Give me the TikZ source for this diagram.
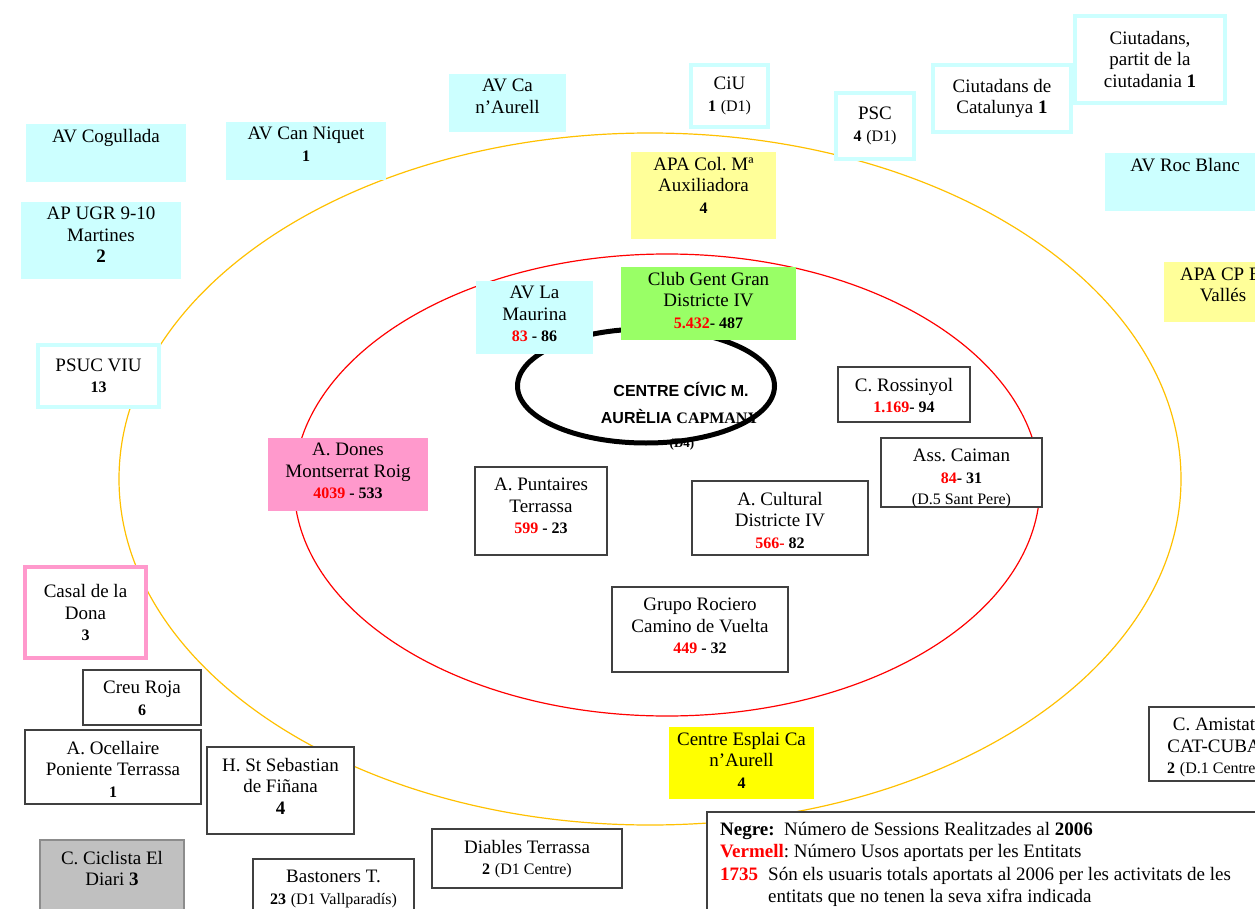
\documentclass[tikz,border=0pt]{standalone}
\usepackage{fontspec}
\setmainfont{Liberation Serif}
\setsansfont{Liberation Sans}
\usepackage{tikz}

\definecolor{cel}{RGB}{204,255,255}
\definecolor{groc}{RGB}{255,255,153}
\definecolor{grocfort}{RGB}{255,255,0}
\definecolor{rosa}{RGB}{255,153,204}
\definecolor{verd}{RGB}{153,255,102}
\definecolor{gris}{RGB}{192,192,192}
\definecolor{taronja}{RGB}{255,192,0}

\newcommand{\xifra}[1]{{\fontsize{16}{19}\selectfont\bfseries #1}}
\newcommand{\petit}[1]{{\fontsize{16}{19}\selectfont #1}}
\newcommand{\vermell}[1]{\textcolor{red}{#1}}

\begin{document}
\frenchspacing
\begin{tikzpicture}[x=1pt, y=-1pt, every node/.style={font=\fontsize{19}{21.5}\selectfont},
  caixa/.style 2 args={rectangle, anchor=north west, inner sep=0pt, outer sep=0pt, minimum width=#1, minimum height=#2, align=center},
  filled node/.style={label={[anchor=north, inner sep=5pt, align=center]north:#1}},
  black node/.style={draw=black!75, line width=1.2pt, fill=white, label={[anchor=north, inner sep=11pt, align=center]north:#1}},
  cyan frame/.style={draw=cel, line width=4pt, fill=white},
  pink frame/.style={draw=rosa, line width=4pt, fill=white},
  centre font/.style={font=\fontsize{16}{18}\selectfont\sffamily\bfseries, anchor=base}]
  \useasboundingbox (0,0) rectangle (1255,909);
  \clip (0,0) rectangle (1255,909);

  % cercles
  \draw[taronja, line width=1.2pt] (650,479) ellipse (531 and 346);
  \draw[red, line width=1.2pt] (667,485) ellipse (373 and 231);

  % centre civic
  \node[centre font] (centre) at (681,396) {CENTRE CÍVIC M.};
  \node[centre font] (aurelia) at (680,423) {AURÈLIA {\rmfamily CAPMANY}};
  \node[font=\fontsize{13}{15}\selectfont\bfseries, anchor=base] (d4) at (682,447) {(D4)};
  \draw[line width=5pt] (646,386) ellipse (128.5 and 57);

  % entitats de fora
  \node[caixa={160}{58}, fill=cel, filled node={AV Cogullada}] (cogullada) at (26,124) {};
  \node[caixa={160}{58}, fill=cel, filled node={AV Can Niquet\\\xifra{1}}] (canniquet) at (226,122) {};
  \node[caixa={160}{77}, fill=cel, filled node={AP UGR 9-10\\Martines\\\textbf{2}}] (ugr) at (21,202) {};
  \node[caixa={117}{58}, fill=cel, filled node={AV Ca\\n’Aurell}] (caaurell) at (449,74) {};
  \node[caixa={160}{58}, fill=cel, filled node={AV Roc Blanc}] (rocblanc) at (1105,153) {};
  \node[caixa={145}{87}, fill=groc, filled node={APA Col. Mª\\Auxiliadora\\\xifra{4}}] (apacol) at (631,152) {};
  \node[caixa={118}{60}, fill=groc, filled node={APA CP El\\Vallés}] (apacp) at (1164,262) {};

  \node[caixa={77}{62}, cyan frame] (ciu) at (691,65) {CiU\\\xifra{1} \petit{(D1)}};
  \node[caixa={78}{66}, cyan frame] (psc) at (836,93) {PSC\\\xifra{4} \petit{(D1)}};
  \node[caixa={138}{67}, cyan frame] (ciutcat) at (933,65) {Ciutadans de\\Catalunya \textbf{1}};
  \node[caixa={150}{87}, cyan frame] (ciutpartit) at (1075,16) {Ciutadans,\\partit de la\\ciutadania \textbf{1}};
  \node[caixa={121}{62}, cyan frame] (psuc) at (38,345) {PSUC VIU\\\xifra{13}};
  \node[caixa={121}{91}, pink frame] (casal) at (25,567) {Casal de la\\Dona\\\xifra{3}};

  % entitats de dins
  \node[caixa={117}{73}, fill=cel, filled node={AV La\\Maurina\\\xifra{\vermell{83} - 86}}] (maurina) at (476,281) {};
  \node[caixa={175}{73}, fill=verd, filled node={Club Gent Gran\\Districte IV\\\xifra{\vermell{5.432}- 487}}] (gentgran) at (621,267) {};
  \node[caixa={160}{73}, fill=rosa, filled node={A. Dones\\Montserrat Roig\\\xifra{\vermell{4039} - 533}}] (dones) at (268,438) {};
  \node[caixa={145}{72}, fill=grocfort, filled node={Centre Esplai Ca\\n’Aurell\\\xifra{4}}] (esplai) at (669,727) {};

  \node[caixa={132}{55}, black node={C. Rossinyol\\\xifra{\vermell{1.169}- 94}}] (rossinyol) at (838,367) {};
  \node[caixa={161}{69}, black node={Ass. Caiman\\\xifra{\vermell{84}- 31}\\\petit{(D.5 Sant Pere)}}] (caiman) at (881,438) {};
  \node[caixa={132}{88}, black node={A. Puntaires\\Terrassa\\\xifra{\vermell{599} - 23}}] (puntaires) at (475,467) {};
  \node[caixa={176}{74}, black node={A. Cultural\\Districte IV\\\xifra{\vermell{566-} 82}}] (cultural) at (692,481) {};
  \node[caixa={176}{85}, black node={Grupo Rociero\\Camino de Vuelta\\\xifra{\vermell{449} - 32}}] (rociero) at (612,587) {};

  % entitats de baix
  \node[caixa={118}{55}, black node={Creu Roja\\\xifra{6}}] (creuroja) at (83,670) {};
  \node[caixa={176}{74}, black node={A. Ocellaire\\Poniente Terrassa\\\xifra{1}}] (ocellaire) at (25,730) {};
  \node[caixa={147}{87}, black node={H. St Sebastian\\de Fiñana\\\textbf{4}}] (sebastian) at (207,747) {};
  \node[caixa={144}{80}, black node={C. Ciclista El\\Diari \textbf{3}}, fill=gris, draw=black!45] (ciclista) at (40,840) {};
  \node[caixa={161}{70}, black node={Bastoners T.\\\xifra{23} \petit{(D1 Vallparadís)}}] (bastoners) at (253,859) {};
  \node[caixa={190}{59}, black node={Diables Terrassa\\\xifra{2} \petit{(D1 Centre)}}] (diables) at (432,829) {};
  \node[caixa={130}{74}, black node={C. Amistat\\CAT-CUBA\\\xifra{2} \petit{(D.1 Centre)}}] (amistat) at (1149,707) {};

  % llegenda
  \node[caixa={570}{120}, draw=black!75, line width=1.2pt, fill=white] (llegenda) at (707,812) {};
  \node[anchor=north west, align=left, inner sep=0pt, font=\fontsize{19}{22.5}\selectfont] (llegendatext) at (720,822) {%
    \textbf{Negre:}\ \ Número de Sessions Realitzades al \textbf{2006}\\
    \vermell{\textbf{Vermell}}: Número Usos aportats per les Entitats\\
    \makebox[48pt][l]{\vermell{\textbf{1735}}}Són els usuaris totals aportats al 2006 per les activitats de les\\
    \hspace*{48pt}entitats que no tenen la seva xifra indicada};
\end{tikzpicture}
\end{document}
